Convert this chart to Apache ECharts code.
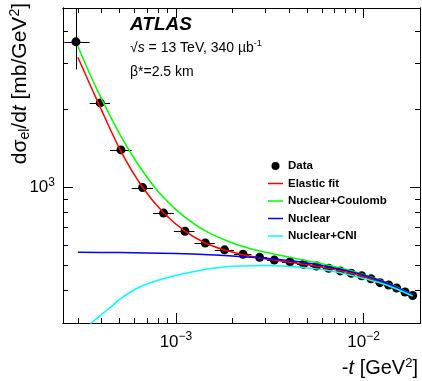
<!DOCTYPE html>
<html>
<head>
<meta charset="utf-8">
<script src="https://cdn.jsdelivr.net/npm/echarts@6/dist/echarts.min.js"></script>
<style>
  html, body { margin: 0; padding: 0; background: #fff; }
  #chart { width: 422px; height: 381px; }
</style>
</head>
<body>
<div id="chart"></div>
<script>
// -t [GeV^2] of each data bin and the measured dsigma/dt [mb/GeV^2]
const tData = [2.93e-4, 3.95e-4, 5.09e-4, 6.64e-4, 8.59e-4, 1.117e-3, 1.433e-3, 1.816e-3,
  2.277e-3, 2.792e-3, 3.344e-3, 4.055e-3, 4.79e-3, 5.62e-3, 6.52e-3, 7.52e-3,
  8.61e-3, 9.77e-3, 1.096e-2, 1.225e-2, 1.361e-2, 1.501e-2, 1.665e-2, 1.828e-2];
const dsigData = [3630, 2112, 1392, 997, 795, 677, 610, 574,
  552, 537, 524, 516, 505, 497, 487, 476,
  466, 456, 444, 429, 420, 409, 395, 383];
// bin edges (horizontal error bars)
const tEdges = [2.54e-4, 3.47e-4, 4.45e-4, 5.81e-4, 7.55e-4, 9.75e-4, 1.255e-3, 1.61e-3,
  2.04e-3, 2.53e-3, 3.06e-3, 3.68e-3, 4.42e-3, 5.2e-3, 6.06e-3, 7.0e-3,
  8.05e-3, 9.18e-3, 1.037e-2, 1.16e-2, 1.29e-2, 1.43e-2, 1.58e-2, 1.745e-2, 1.91e-2];
// vertical error bars (only the first one sticks out of the marker)
const dsigLow = [2840];
const dsigHigh = [6000];

// curves [ -t, dsigma/dt ]
const elasticFit = [[3.0e-4, 3167], [3.95e-4, 2030], [5.09e-4, 1375], [6.64e-4, 1000], [8.59e-4, 797],
  [1.117e-3, 677], [1.433e-3, 610], [1.816e-3, 573], [2.277e-3, 550], [2.792e-3, 535],
  [3.344e-3, 524], [4.055e-3, 514], [4.79e-3, 505], [5.62e-3, 496], [6.52e-3, 487],
  [7.52e-3, 477], [8.61e-3, 466], [9.77e-3, 455], [1.096e-2, 444], [1.225e-2, 432],
  [1.361e-2, 420], [1.501e-2, 408], [1.665e-2, 395], [1.828e-2, 382]];
const nuclearCoulomb = [[3.0e-4, 3490], [3.5e-4, 2700], [4.0e-4, 2200], [5.0e-4, 1610], [6.0e-4, 1290],
  [7.0e-4, 1095], [8.0e-4, 968], [1.0e-3, 820], [1.25e-3, 722], [1.5e-3, 667], [2.0e-3, 610],
  [2.5e-3, 580], [3.0e-3, 562], [4.0e-3, 538], [5.0e-3, 521], [6.0e-3, 507], [8.0e-3, 483],
  [1.0e-2, 461], [1.2e-2, 441], [1.4e-2, 422], [1.6e-2, 404], [1.83e-2, 384]];
const nuclear = [[3.0e-4, 562], [5.0e-4, 560], [7.0e-4, 558], [1.0e-3, 555], [1.5e-3, 550],
  [2.0e-3, 544], [3.0e-3, 533], [4.0e-3, 522], [5.0e-3, 511], [6.0e-3, 500], [7.0e-3, 489],
  [8.0e-3, 479], [9.0e-3, 469], [1.0e-2, 459], [1.2e-2, 439], [1.4e-2, 421], [1.6e-2, 403],
  [1.83e-2, 384]];
const nuclearCNI = [[3.3e-4, 275], [3.52e-4, 298], [4.0e-4, 323], [4.59e-4, 350], [5.0e-4, 370],
  [6.37e-4, 412], [8.84e-4, 447], [1.331e-3, 478], [1.702e-3, 491], [2.0e-3, 496],
  [3.0e-3, 500], [4.55e-3, 493], [6.84e-3, 475], [1.031e-2, 443], [1.4e-2, 414], [1.828e-2, 381]];

// axis ranges and ticks
const xMin = 2.5e-4, xMax = 0.02;
const yMin = 300, yMax = 4900;
const xMajor = [1e-3, 1e-2];
const xMinor = [3e-4, 4e-4, 5e-4, 6e-4, 7e-4, 8e-4, 9e-4, 2e-3, 3e-3, 4e-3, 5e-3, 6e-3, 7e-3, 8e-3, 9e-3];
const yMajor = [1000];
const yMinor = [300, 400, 500, 600, 700, 800, 900, 2000, 3000, 4000];

const FONT = "'Liberation Sans', Arial, sans-serif";

const chart = echarts.init(document.getElementById("chart"), null, { renderer: "canvas" });

// 10^n labels
function powLabel(v) {
  const e = Math.round(Math.log10(v));
  return "{b|10}{s|" + (e < 0 ? "\u2212" + (-e) : e) + "}";
}
const powRich = {
  b: { fontSize: 17, fontFamily: FONT, color: "#000" },
  s: { fontSize: 12, fontFamily: FONT, color: "#000", padding: [0, 0, 10, 0] },
};

// one axis per tick length, mirrored on the opposite side
function makeAxis(kind, position, ticks, len, labels) {
  const isX = kind === "x";
  return {
    type: "log",
    logBase: 10,
    min: isX ? xMin : yMin,
    max: isX ? xMax : yMax,
    position: position,
    axisLine: { show: true, lineStyle: { color: "#000", width: 1 } },
    axisTick: { show: true, inside: true, length: len, customValues: ticks, lineStyle: { color: "#000", width: 1 } },
    axisLabel: labels
      ? { show: true, customValues: labels, formatter: powLabel, rich: powRich, margin: 8 }
      : { show: false },
    splitLine: { show: false },
  };
}

const xAxes = [
  makeAxis("x", "bottom", xMajor, 10, xMajor),
  makeAxis("x", "bottom", xMinor, 5, null),
  makeAxis("x", "top", xMajor, 10, null),
  makeAxis("x", "top", xMinor, 5, null),
];
const yAxes = [
  makeAxis("y", "left", yMajor, 10, yMajor),
  makeAxis("y", "left", yMinor, 5, null),
  makeAxis("y", "right", yMajor, 10, null),
  makeAxis("y", "right", yMinor, 5, null),
];

const points = tData.map((t, i) => [t, dsigData[i]]);
const errData = tData.map((t, i) => [
  t, dsigData[i], tEdges[i], tEdges[i + 1],
  dsigLow[i] != null ? dsigLow[i] : dsigData[i],
  dsigHigh[i] != null ? dsigHigh[i] : dsigData[i],
]);

function lineSeries(name, data, color) {
  return {
    name: name,
    type: "line",
    data: data,
    showSymbol: false,
    symbol: "none",
    smooth: 0.3,
    clip: true,
    lineStyle: { color: color, width: 1.5 },
    itemStyle: { color: color },
    z: 4,
  };
}

const lineIcon = "path://M0,0L30,0L30,3L0,3Z";

const option = {
  animation: false,
  backgroundColor: "#fff",
  grid: { left: 63, right: 2, top: 8, bottom: 58 },
  xAxis: xAxes,
  yAxis: yAxes,
  legend: {
    orient: "vertical",
    left: 263,
    top: 155,
    itemWidth: 15,
    itemHeight: 8,
    itemGap: 5.5,
    selectedMode: false,
    textStyle: { fontFamily: FONT, fontSize: 11.5, fontWeight: "bold", color: "#000" },
    data: [
      { name: "Data", icon: "circle" },
      { name: "Elastic fit", icon: lineIcon },
      { name: "Nuclear+Coulomb", icon: lineIcon },
      { name: "Nuclear", icon: lineIcon },
      { name: "Nuclear+CNI", icon: lineIcon },
    ],
  },
  graphic: [
    {
      type: "text", x: 130, y: 25,
      style: { text: "ATLAS", font: "italic bold 19px " + FONT, fill: "#000", verticalAlign: "middle" },
    },
    {
      type: "text", x: 130, y: 48,
      style: {
        text: "{n|\u221A}{i|s}{n| = 13 TeV, 340 \u00B5b}{u|-1}",
        verticalAlign: "middle",
        rich: {
          n: { fontSize: 14, fontFamily: FONT, color: "#000" },
          i: { fontSize: 14, fontFamily: FONT, fontStyle: "italic", color: "#000" },
          u: { fontSize: 9, fontFamily: FONT, color: "#000", padding: [0, 0, 8, 0] },
        },
      },
    },
    {
      type: "text", x: 130, y: 72,
      style: { text: "\u03B2*=2.5 km", font: "14px " + FONT, fill: "#000", verticalAlign: "middle" },
    },
    {
      type: "text", x: 418, y: 368,
      style: {
        text: "{n|-}{i|t}{n| [GeV}{u|2}{n|]}",
        align: "right",
        verticalAlign: "middle",
        rich: {
          n: { fontSize: 20, fontFamily: FONT, color: "#000" },
          i: { fontSize: 20, fontFamily: FONT, fontStyle: "italic", color: "#000" },
          u: { fontSize: 13, fontFamily: FONT, color: "#000", padding: [0, 0, 10, 0] },
        },
      },
    },
    {
      type: "text", x: 20, y: 3, rotation: Math.PI / 2,
      style: {
        text: "{n|d}{n|\u03C3}{d|el}{n|/d}{i|t}{n| [mb/GeV}{u|2}{n|]}",
        align: "right",
        verticalAlign: "middle",
        rich: {
          n: { fontSize: 21, fontFamily: FONT, color: "#000" },
          i: { fontSize: 21, fontFamily: FONT, fontStyle: "italic", color: "#000" },
          d: { fontSize: 14, fontFamily: FONT, color: "#000", padding: [10, 0, 0, 0] },
          u: { fontSize: 14, fontFamily: FONT, color: "#000", padding: [0, 0, 10, 0] },
        },
      },
    },
  ],
  series: [
    {
      name: "Data",
      type: "scatter",
      data: points,
      symbol: "circle",
      symbolSize: 9,
      itemStyle: { color: "#000", opacity: 1 },
      z: 3,
    },
    {
      name: "errors",
      type: "custom",
      data: errData,
      clip: true,
      z: 2,
      renderItem: function (params, api) {
        const c = api.coord([api.value(0), api.value(1)]);
        const l = api.coord([api.value(2), api.value(1)]);
        const r = api.coord([api.value(3), api.value(1)]);
        const lo = api.coord([api.value(0), api.value(4)]);
        const hi = api.coord([api.value(0), api.value(5)]);
        const y = Math.round(c[1]) + 0.5;
        const x = Math.round(c[0]) + 0.5;
        const style = { stroke: "#000", lineWidth: 1 };
        return {
          type: "group",
          children: [
            { type: "line", shape: { x1: l[0], y1: y, x2: r[0], y2: y }, style: style },
            { type: "line", shape: { x1: x, y1: lo[1], x2: x, y2: hi[1] }, style: style },
          ],
        };
      },
    },
    lineSeries("Elastic fit", elasticFit, "#ff0000"),
    lineSeries("Nuclear+Coulomb", nuclearCoulomb, "#00ff00"),
    lineSeries("Nuclear", nuclear, "#0000ff"),
    lineSeries("Nuclear+CNI", nuclearCNI, "#00ffff"),
  ],
};

chart.setOption(option);
</script>
</body>
</html>
